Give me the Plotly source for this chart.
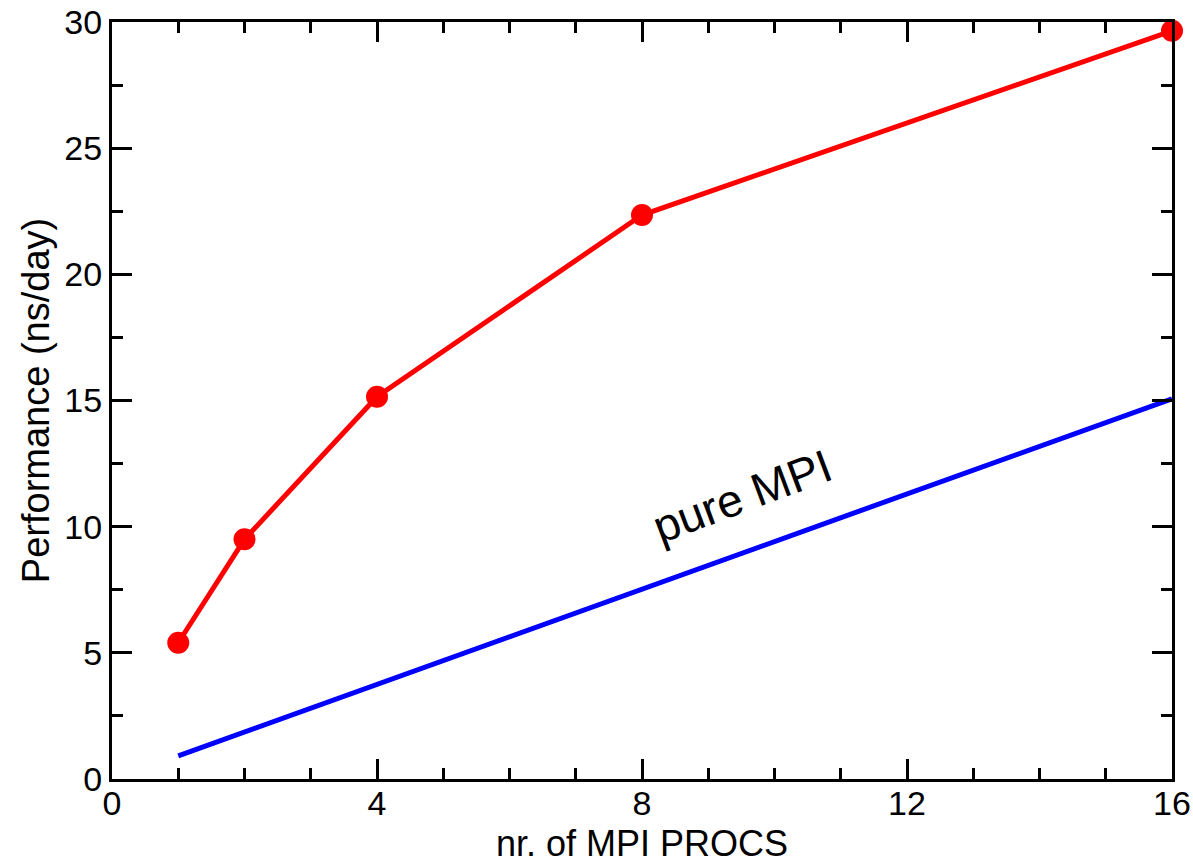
import plotly.graph_objects as go

procs = [1, 2, 4, 8, 16]
perf_hybrid = [5.4, 9.5, 15.15, 22.35, 29.65]
pure_x = [1, 16]
pure_mpi = [0.92, 15.07]

x_ticks = [0, 4, 8, 12, 16]
y_ticks = [0, 5, 10, 15, 20, 25, 30]

FONT = "Liberation Sans, Arial, Helvetica, sans-serif"

fig = go.Figure()
fig.add_trace(go.Scatter(x=pure_x, y=pure_mpi, mode="lines",
                         line=dict(color="#0000ff", width=5), cliponaxis=False,
                         showlegend=False))
fig.add_trace(go.Scatter(x=procs, y=perf_hybrid, mode="lines+markers",
                         line=dict(color="#ff0000", width=5),
                         marker=dict(color="#ff0000", size=22),
                         cliponaxis=False, showlegend=False))

fig.add_annotation(x=9.52, y=11.2, text="pure MPI", showarrow=False,
                   textangle=-20.5, font=dict(family=FONT, size=46, color="black"))

# x-axis title placed just below the tick labels
fig.add_annotation(xref="paper", yref="paper", x=0.5, y=-0.1145, yanchor="bottom",
                   text="nr. of MPI PROCS", showarrow=False,
                   font=dict(family=FONT, size=36, color="black"))

axis_common = dict(showgrid=False, zeroline=False, showline=True, linecolor="black",
                   linewidth=3, mirror="allticks", ticks="inside", ticklen=20,
                   tickwidth=3, tickcolor="black",
                   tickfont=dict(family=FONT, size=34, color="black"))

fig.update_xaxes(range=[0, 16], tickvals=x_ticks, ticklabelstandoff=-8,
                 minor=dict(dtick=1, ticklen=11, tickwidth=3, tickcolor="black", ticks="inside"),
                 **axis_common)
fig.update_yaxes(range=[0, 30], tickvals=y_ticks,
                 minor=dict(dtick=2.5, ticklen=11, tickwidth=3, tickcolor="black", ticks="inside"),
                 title=dict(text="Performance (ns/day)", font=dict(family=FONT, size=38, color="black"), standoff=4),
                 **axis_common)

fig.update_layout(width=1193, height=866, paper_bgcolor="white", plot_bgcolor="white",
                  margin=dict(l=112, r=21, t=22, b=87, autoexpand=False))

fig.write_html("out.html", config={"displayModeBar": False},
               post_script="document.body.style.margin='0';")
